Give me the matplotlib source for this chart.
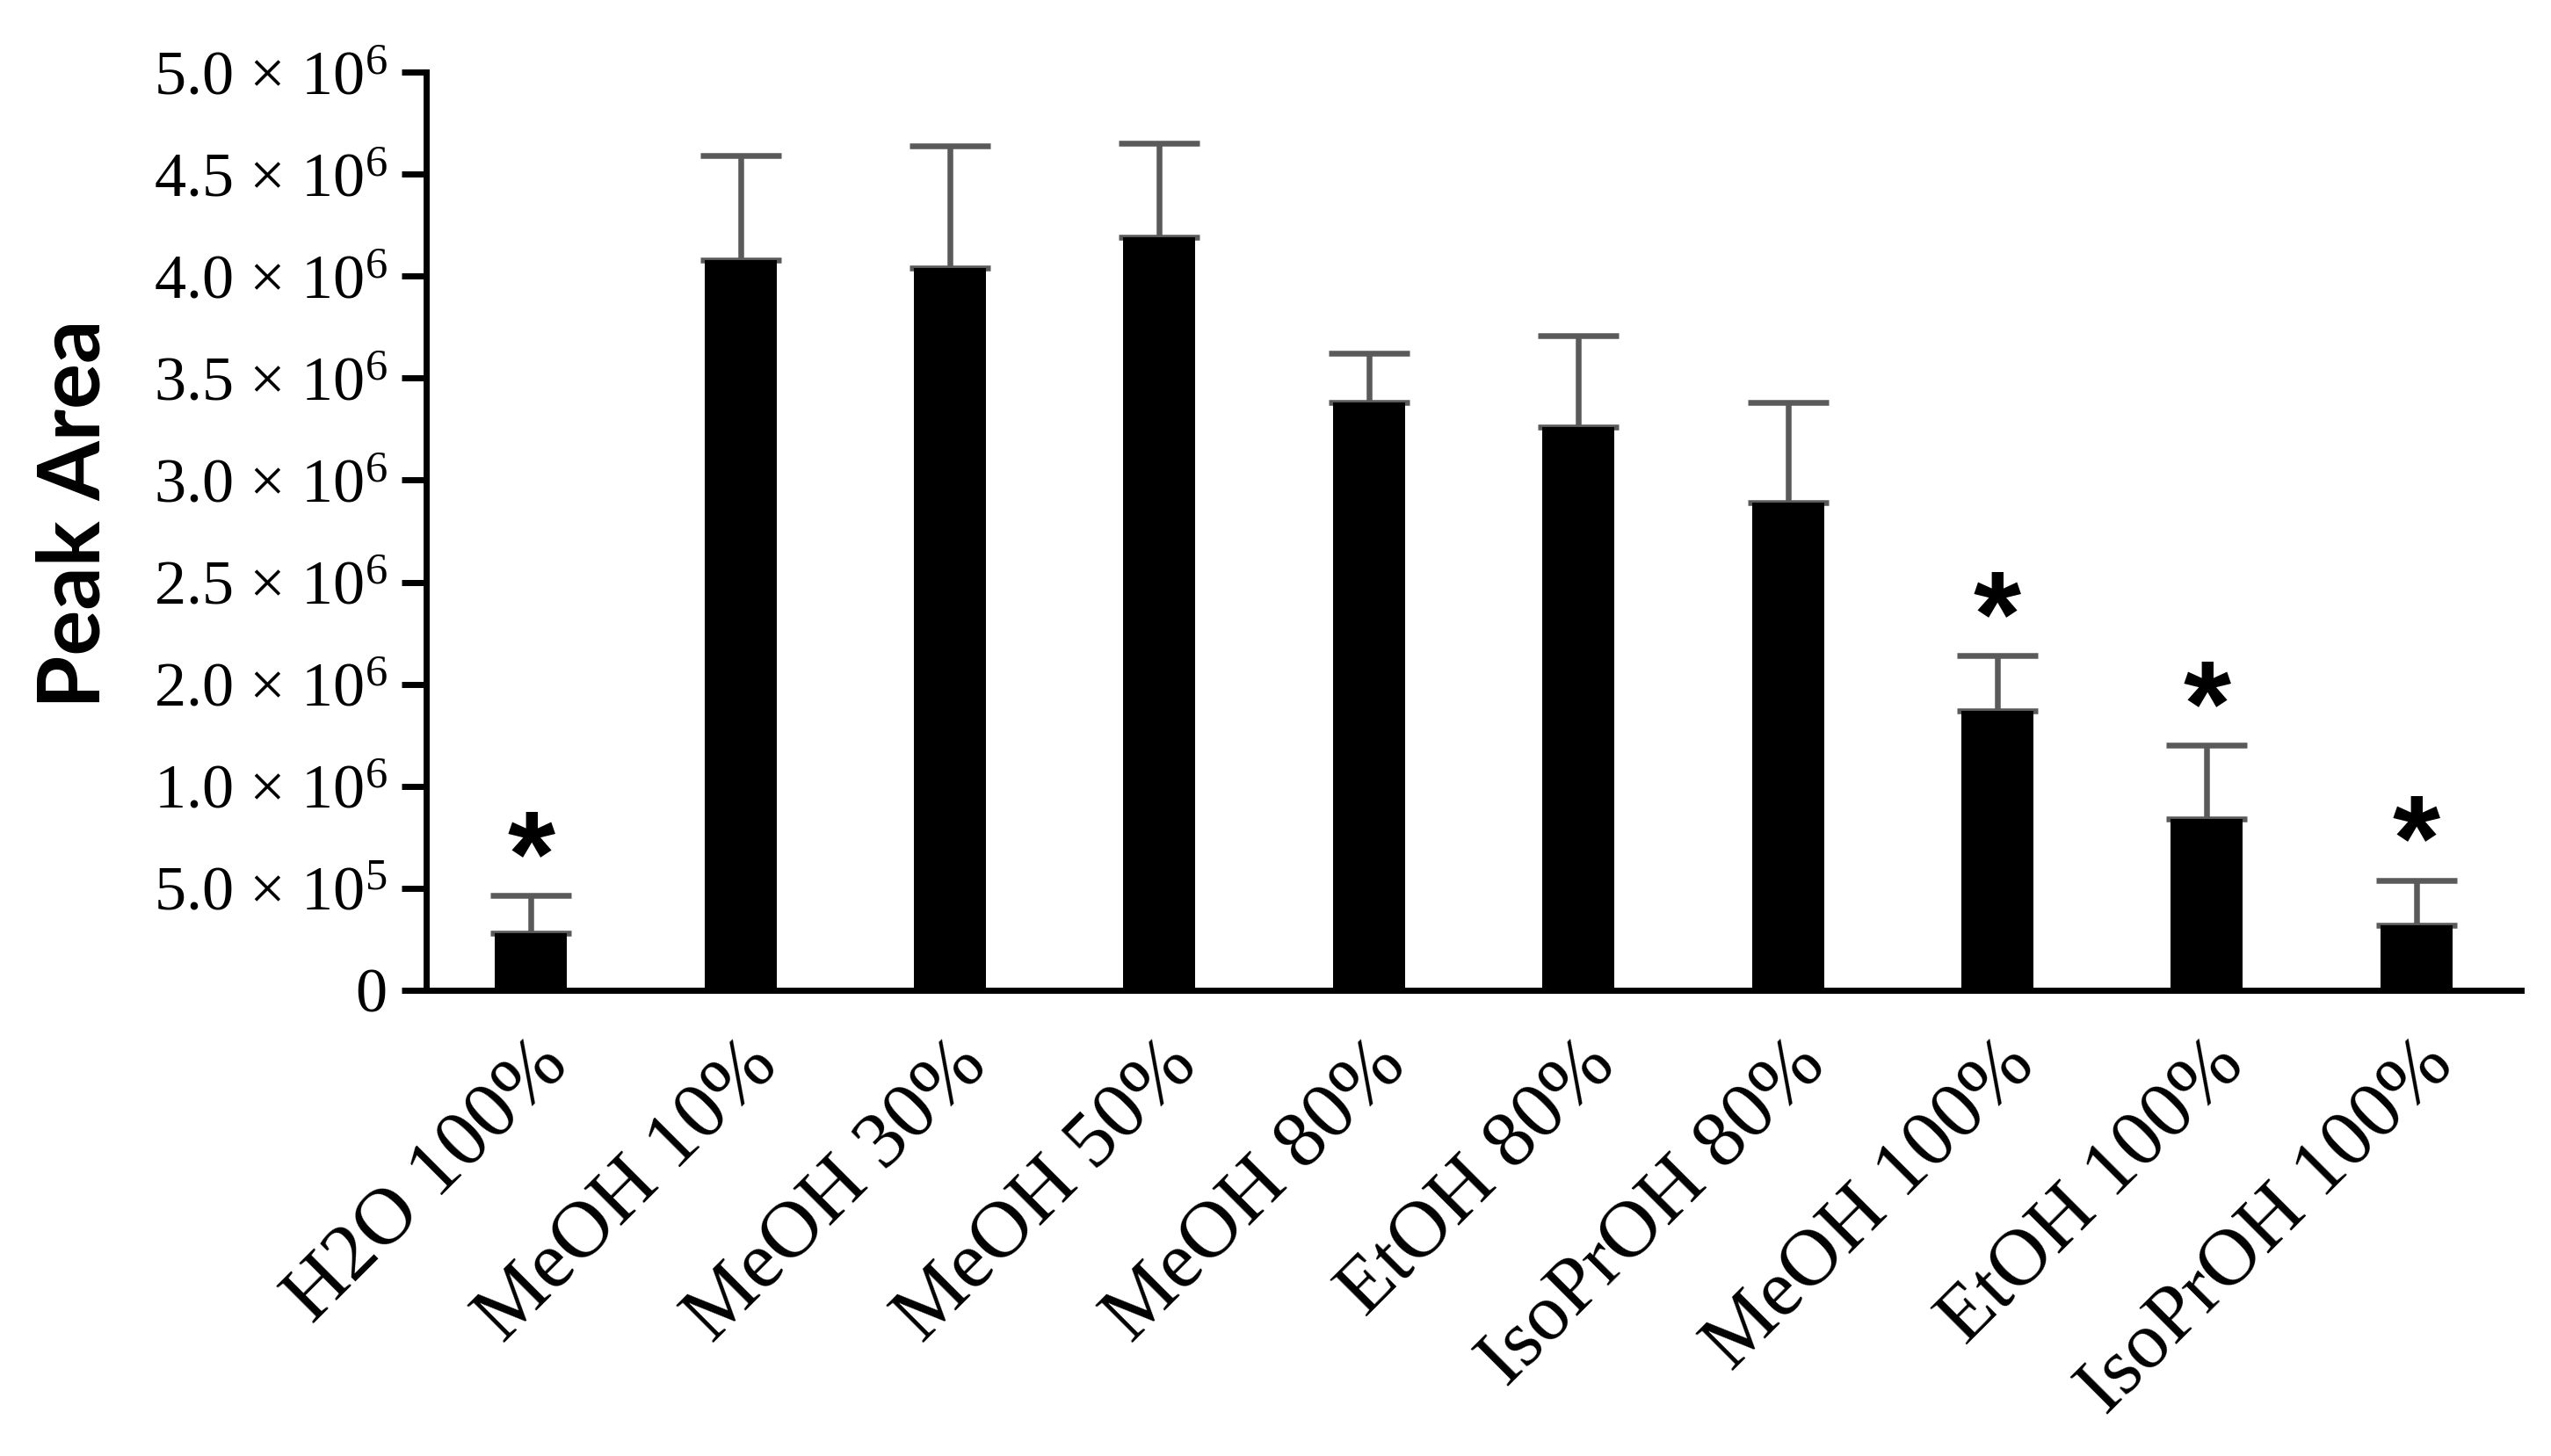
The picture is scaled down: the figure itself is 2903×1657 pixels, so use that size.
import matplotlib
matplotlib.use("Agg")
import matplotlib.pyplot as plt
import numpy as np

# solvents and peak area (bar heights in axis units of 1e6)
solvents = ["H2O 100%", "MeOH 10%", "MeOH 30%", "MeOH 50%", "MeOH 80%",
            "EtOH 80%", "IsoPrOH 80%", "MeOH 100%", "EtOH 100%", "IsoPrOH 100%"]
peak_area = [0.28, 3.58, 3.54, 3.69, 2.88, 2.76, 2.39, 1.37, 0.84, 0.32]
peak_sd = [0.185, 0.51, 0.60, 0.46, 0.24, 0.45, 0.49, 0.27, 0.36, 0.22]
signif = [True, False, False, False, False, False, False, True, True, True]

ytick_pos = [0, 0.5, 1.0, 1.5, 2.0, 2.5, 3.0, 3.5, 4.0, 4.5]
ytick_lab = ["0",
             r"5.0 × $\mathregular{10^{5}}$",
             r"1.0 × $\mathregular{10^{6}}$",
             r"2.0 × $\mathregular{10^{6}}$",
             r"2.5 × $\mathregular{10^{6}}$",
             r"3.0 × $\mathregular{10^{6}}$",
             r"3.5 × $\mathregular{10^{6}}$",
             r"4.0 × $\mathregular{10^{6}}$",
             r"4.5 × $\mathregular{10^{6}}$",
             r"5.0 × $\mathregular{10^{6}}$"]

plt.rcParams['font.family'] = ['Liberation Serif', 'DejaVu Serif']

fig = plt.figure(figsize=(29.03, 16.57), dpi=100)
ax = fig.add_axes([0.1671, 0.3199, 0.8212, 0.6306])

x = np.arange(len(solvents))
ax.bar(x, peak_area, width=0.344, color="black", zorder=3)
ax.errorbar(x, peak_area, yerr=[np.zeros(len(x)), peak_sd], fmt="none",
            ecolor="#5a5a5a", elinewidth=4.7, capsize=33, capthick=4.7, zorder=2)

# significance marks above the error caps
for xi, v, e, s in zip(x, peak_area, peak_sd, signif):
    if s:
        ax.text(xi, v + e, "*", ha="center", va="baseline", fontsize=100,
                fontweight="bold", family=["Liberation Sans", "DejaVu Sans"])

ax.set_xlim(-0.5, 9.5)
ax.set_ylim(0, 4.5)
ax.set_yticks(ytick_pos)
ax.set_yticklabels(ytick_lab, fontsize=52)
ax.set_xticks(x)
ax.set_xticklabels(solvents, fontsize=66, rotation=45, ha="right",
                   va="top", rotation_mode="anchor")

for sp in ["top", "right"]:
    ax.spines[sp].set_visible(False)
ax.spines["left"].set_linewidth(5)
ax.spines["bottom"].set_linewidth(5)
ax.tick_params(axis="y", length=20, width=5, pad=12)
ax.tick_params(axis="x", length=0, pad=31)

ax.set_ylabel("Peak Area", fontsize=70, fontweight="bold",
              family=["Lato", "DejaVu Sans"])
ax.yaxis.set_label_coords(-0.149, 0.519)

fig.savefig("out.png", dpi=100)
